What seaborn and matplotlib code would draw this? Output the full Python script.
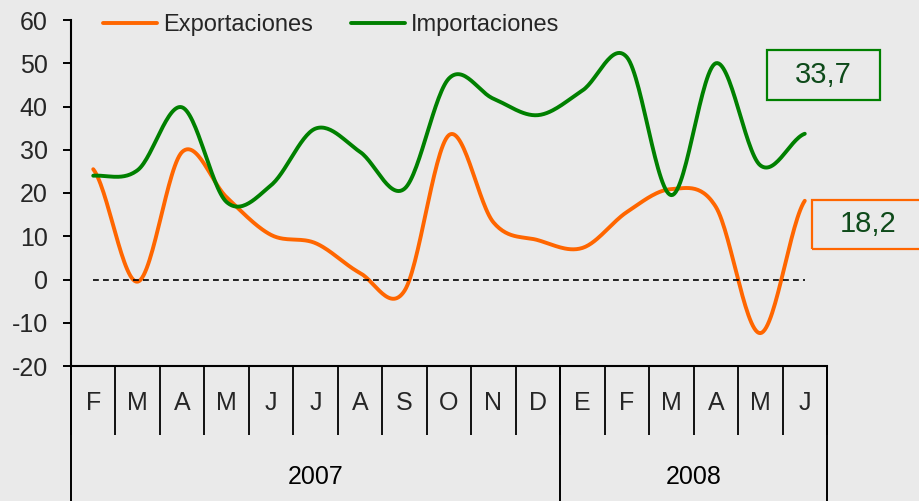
import numpy as np
import matplotlib
matplotlib.use("Agg")
import matplotlib.pyplot as plt
import matplotlib.transforms as mtransforms
from matplotlib.patches import Rectangle
from matplotlib.lines import Line2D
import seaborn as sns

# === Datos ===
meses = ["F", "M", "A", "M", "J", "J", "A", "S", "O", "N", "D", "E", "F", "M", "A", "M", "J"]
anios = ["2007", "2008"]
meses_por_anio = [11, 6]
exportaciones = [25.5, -0.5, 29.5, 19.0, 10.3, 8.4, 1.5, -2.6, 33.4, 13.2, 9.1, 7.3, 15.6, 20.9, 16.8, -12.4, 18.2]
importaciones = [24.0, 25.3, 39.8, 17.9, 21.8, 34.9, 29.5, 21.0, 46.5, 41.8, 38.0, 43.7, 51.4, 19.5, 50.0, 26.4, 33.7]
etiqueta_imp = "33,7"
etiqueta_exp = "18,2"

FONDO = "#EAEAEA"
NARANJA = "#FF6600"
VERDE = "#008000"
TEXTO_VERDE = "#0E4A1A"


def suavizar(valores, n=30):
    # curva tipo Catmull-Rom que pasa por todos los puntos (como el "suavizado" de Excel)
    p = np.concatenate([[valores[0]], valores, [valores[-1]]]).astype(float)
    xs, ys = [], []
    for i in range(len(valores) - 1):
        t = np.linspace(0, 1, n, endpoint=False)
        p0, p1, p2, p3 = p[i], p[i + 1], p[i + 2], p[i + 3]
        ys.append(0.5 * (2 * p1 + (-p0 + p2) * t + (2 * p0 - 5 * p1 + 4 * p2 - p3) * t ** 2
                         + (-p0 + 3 * p1 - 3 * p2 + p3) * t ** 3))
        xs.append(i + t)
    xs.append([len(valores) - 1])
    ys.append([valores[-1]])
    return np.concatenate(xs), np.concatenate(ys)


sns.set_theme(style="white")
plt.rcParams["font.family"] = ["Liberation Sans", "DejaVu Sans"]
plt.rcParams["axes.unicode_minus"] = False

fig = plt.figure(figsize=(9.2, 5.01), dpi=100, facecolor=FONDO)
ax = fig.add_axes([71 / 920, 1 - 366 / 501, 756 / 920, 346 / 501])
ax.set_facecolor(FONDO)

x = np.arange(len(meses))
for serie, color in [(exportaciones, NARANJA), (importaciones, VERDE)]:
    xs, ys = suavizar(serie)
    sns.lineplot(x=xs, y=ys, color=color, linewidth=2.8, ax=ax, sort=False,
                 estimator=None, solid_capstyle="round")

# linea de cero
ax.plot([x[0], x[-1]], [0, 0], color="black", linewidth=1.2, linestyle=(0, (3.5, 2.5)))

ax.set_xlim(-0.5, len(meses) - 0.5)
ax.set_ylim(-20, 60)
ax.set_yticks(np.arange(-20, 61, 10))
ax.tick_params(axis="y", direction="out", length=5.7, width=1.4, color="black",
               labelsize=18, pad=11, left=True)
ax.set_xticks(x)
ax.set_xticklabels(meses)
ax.set_xticks(np.arange(-0.5, len(meses), 1), minor=True)
ax.tick_params(axis="x", which="major", length=0, labelsize=18, pad=18)
ax.tick_params(axis="x", which="minor", direction="out", length=50, width=1.3,
               color="black", bottom=True)
ax.set_xlabel("")
ax.set_ylabel("")

for lado in ["top", "right"]:
    ax.spines[lado].set_visible(False)
for lado in ["left", "bottom"]:
    ax.spines[lado].set_color("black")
    ax.spines[lado].set_linewidth(1.5)

# separadores y etiquetas de anio
trans = mtransforms.blended_transform_factory(ax.transData, ax.transAxes)
inicio = -0.5
limites = [inicio]
for n in meses_por_anio:
    limites.append(limites[-1] + n)
for b in limites:
    ax.plot([b, b], [0, -0.4], transform=trans, color="black", linewidth=1.4, clip_on=False)
for anio, a, b in zip(anios, limites[:-1], limites[1:]):
    ax.text((a + b) / 2, -0.321, anio, transform=trans, ha="center", va="center",
            fontsize=18, color="black", clip_on=False)

# leyenda
handles = [Line2D([], [], color=NARANJA, linewidth=2.8),
           Line2D([], [], color=VERDE, linewidth=2.8)]
fig.legend(handles, ["Exportaciones", "Importaciones"], loc="center left",
           bbox_to_anchor=(103 / 920, 1 - 25 / 501), ncol=2, frameon=False, fontsize=17,
           handlelength=2.3, handletextpad=0.25, columnspacing=1.6, borderpad=0,
           borderaxespad=0)

# cuadros con el ultimo valor
for etiqueta, x0, y0, w, h, color in [(etiqueta_imp, 767, 50, 113, 50, VERDE),
                                      (etiqueta_exp, 812, 200, 113, 49, NARANJA)]:
    fig.patches.append(Rectangle((x0 / 920, 1 - (y0 + h) / 501), w / 920, h / 501,
                                 transform=fig.transFigure, fill=False,
                                 edgecolor=color, linewidth=1.6))
    fig.text((x0 + 56) / 920, 1 - (y0 + h / 2) / 501, etiqueta, ha="center", va="center",
             fontsize=21, color=TEXTO_VERDE)

fig.savefig("out.png", dpi=100, facecolor=FONDO)
